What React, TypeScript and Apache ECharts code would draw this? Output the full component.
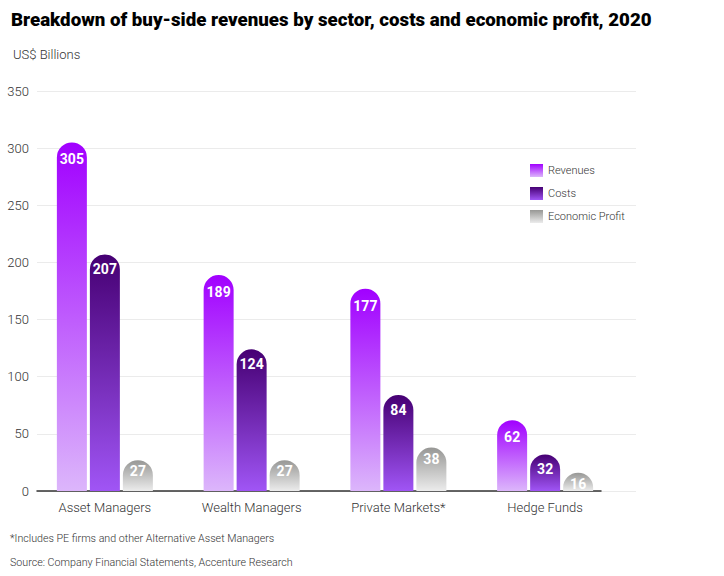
import React, { useEffect, useRef } from "react";
import * as echarts from "echarts";

const categories = ["Asset Managers", "Wealth Managers", "Private Markets*", "Hedge Funds"];
const revenues = [305, 189, 177, 62];
const costs = [207, 124, 84, 32];
const economicProfit = [27, 27, 38, 16];
const yMin = 0;
const yMax = 350;
const yInterval = 50;

const FONT = "Roboto";

function grad(top: string, bottom: string) {
  return new echarts.graphic.LinearGradient(0, 0, 0, 1, [
    { offset: 0, color: top },
    { offset: 1, color: bottom },
  ]);
}

export default function App() {
  const ref = useRef<HTMLDivElement>(null);
  useEffect(() => {
    if (!ref.current) return;
    const chart = echarts.init(ref.current, undefined, { renderer: "svg" });
    const gridTop = 91;
    const gridBottom = 85;
    const labelCommon = {
      show: true,
      position: "insideTop",
      color: "#ffffff",
      fontFamily: FONT,
      fontWeight: "bold",
      fontSize: 14,
    };
    chart.setOption({
      animation: false,
      textStyle: { fontFamily: FONT },
      title: [
        {
          text: "Breakdown of buy-side revenues by sector, costs and economic profit, 2020",
          left: 6,
          top: 5,
          textStyle: { fontSize: 18.7, fontWeight: 900, color: "#000", fontFamily: FONT },
        },
        {
          text: "US$ Billions",
          left: 8,
          top: 43,
          textStyle: { fontSize: 13, fontWeight: 300, color: "#333", fontFamily: FONT },
        },
        {
          text: "*Includes PE firms and other Alternative Asset Managers",
          left: 5,
          top: 528,
          textStyle: { fontSize: 10.7, fontWeight: 300, color: "#333", fontFamily: FONT },
        },
        {
          text: "Source: Company Financial Statements, Accenture Research",
          left: 5,
          top: 552,
          textStyle: { fontSize: 10.7, fontWeight: 300, color: "#333", fontFamily: FONT },
        },
      ],
      legend: {
        orient: "vertical",
        left: 525,
        top: 159,
        itemWidth: 13,
        itemHeight: 13,
        itemGap: 10,
        icon: "rect",
        textStyle: { fontSize: 11, color: "#333", fontWeight: 300, fontFamily: FONT },
        data: ["Revenues", "Costs", "Economic Profit"],
      },
      grid: [
        { left: 31.5, right: 105.5, top: gridTop, bottom: gridBottom },
        { left: 37, right: 88, top: gridTop, bottom: gridBottom },
        { left: 37, right: 123, top: gridTop, bottom: gridBottom },
      ],
      xAxis: [
        {
          gridIndex: 0,
          type: "category",
          data: categories,
          axisLine: { show: false },
          axisTick: { show: false },
          axisLabel: { color: "#333", fontSize: 13, fontWeight: 300, margin: 10, fontFamily: FONT },
        },
        { gridIndex: 1, type: "category", data: categories, show: false },
        {
          gridIndex: 2,
          type: "category",
          data: categories,
          axisLine: { show: true, lineStyle: { color: "#333", width: 1.5 } },
          axisTick: { show: false },
          axisLabel: { show: false },
        },
      ],
      yAxis: [
        { gridIndex: 0, type: "value", min: yMin, max: yMax, interval: yInterval, show: false },
        {
          gridIndex: 1,
          type: "value",
          min: yMin,
          max: yMax,
          interval: yInterval,
          axisLine: { show: false },
          axisTick: { show: false },
          axisLabel: { color: "#333", fontSize: 13, fontWeight: 300, margin: 8, fontFamily: FONT },
          splitLine: { lineStyle: { color: "#ebebeb", width: 1 } },
        },
        { gridIndex: 2, type: "value", min: yMin, max: yMax, interval: yInterval, show: false },
      ],
      series: [
        {
          name: "Revenues",
          type: "bar",
          xAxisIndex: 0,
          yAxisIndex: 0,
          data: revenues,
          barWidth: 30,
          barGap: "10%",
          itemStyle: { color: grad("#a100ff", "#dcb6fb"), borderRadius: [15, 15, 0, 0] },
          label: { ...labelCommon, distance: 10 },
        },
        {
          name: "Costs",
          type: "bar",
          xAxisIndex: 0,
          yAxisIndex: 0,
          data: costs,
          barWidth: 30,
          barGap: "10%",
          itemStyle: { color: grad("#460073", "#a055f5"), borderRadius: [15, 15, 0, 0] },
          label: { ...labelCommon, distance: 8 },
        },
        {
          name: "Economic Profit",
          type: "bar",
          xAxisIndex: 0,
          yAxisIndex: 0,
          data: economicProfit,
          barWidth: 30,
          barGap: "10%",
          itemStyle: { color: grad("#979795", "#ececec"), borderRadius: [15, 15, 0, 0] },
          label: { ...labelCommon, distance: 4 },
        },
      ],
    });
    return () => chart.dispose();
  }, []);
  return (
    <div
      ref={ref}
      style={{ position: "absolute", left: 0, top: 0, width: 724, height: 576, background: "#fff" }}
    />
  );
}
